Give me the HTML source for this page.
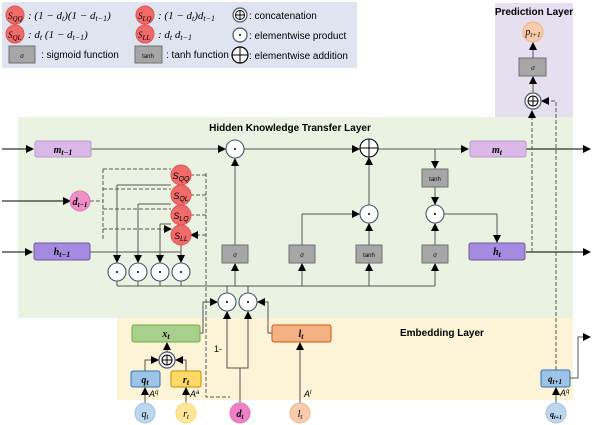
<!DOCTYPE html>
<html><head><meta charset="utf-8"><style>
html,body{margin:0;padding:0;background:#fff}
svg{display:block}
text{font-family:"Liberation Sans",sans-serif}
.m{font-family:"Liberation Serif",serif;font-style:italic;font-weight:bold}
.n{font-family:"Liberation Serif",serif;font-style:italic;font-weight:normal}
</style></head><body>
<svg width="602" height="425" viewBox="0 0 602 425" xmlns="http://www.w3.org/2000/svg">
<defs>
<marker id="a" markerWidth="8" markerHeight="8" refX="7" refY="4" orient="auto" markerUnits="userSpaceOnUse"><path d="M0,0L8,4L0,8z" fill="#000"/></marker>
</defs>
<rect x="2" y="2" width="355" height="66" fill="#dfe4f1"/>
<rect x="495" y="3" width="78" height="114" fill="#e6dff0"/>
<rect x="18" y="117" width="555" height="201" fill="#eaf3e2"/>
<rect x="117" y="318" width="456" height="82" fill="#fdf3d6"/>

<!-- legend -->
<g font-size="11">
<circle cx="15" cy="15" r="9" fill="#f26b6b" stroke="#e05050"/><text x="8" y="19" class="n" font-size="9">S<tspan font-size="7" dy="2">QQ</tspan></text>
<text x="28" y="19" class="n">: (1 − d<tspan font-size="8" dy="2">t</tspan><tspan dy="-2">)(1 − d</tspan><tspan font-size="8" dy="2">t−1</tspan><tspan dy="-2">)</tspan></text>
<circle cx="15" cy="34" r="9" fill="#f26b6b" stroke="#e05050"/><text x="8" y="38" class="n" font-size="9">S<tspan font-size="7" dy="2">QL</tspan></text>
<text x="28" y="38" class="n">: d<tspan font-size="8" dy="2">t</tspan><tspan dy="-2"> (1 − d</tspan><tspan font-size="8" dy="2">t−1</tspan><tspan dy="-2">)</tspan></text>
<rect x="9" y="46" width="26" height="17" fill="#a6a6a6" stroke="#707070"/><text x="22" y="58" font-size="6" text-anchor="middle" font-style="italic">σ</text>
<text x="41" y="58" font-size="10">: sigmoid function</text>
<circle cx="145" cy="15" r="9" fill="#f26b6b" stroke="#e05050"/><text x="138" y="19" class="n" font-size="9">S<tspan font-size="7" dy="2">LQ</tspan></text>
<text x="158" y="19" class="n">: (1 − d<tspan font-size="8" dy="2">t</tspan><tspan dy="-2">)d</tspan><tspan font-size="8" dy="2">t−1</tspan></text>
<circle cx="145" cy="34" r="9" fill="#f26b6b" stroke="#e05050"/><text x="138" y="38" class="n" font-size="9">S<tspan font-size="7" dy="2">LL</tspan></text>
<text x="158" y="38" class="n">: d<tspan font-size="8" dy="2">t</tspan><tspan dy="-2"> d</tspan><tspan font-size="8" dy="2">t−1</tspan></text>
<rect x="135" y="46" width="27" height="17" fill="#a6a6a6" stroke="#707070"/><text x="148" y="58" font-size="6" text-anchor="middle">tanh</text>
<text x="166" y="58" font-size="10">: tanh function</text>
<circle cx="240" cy="15" r="7" fill="#fff" stroke="#44546a" stroke-width="1.2"/><circle cx="240" cy="15" r="4.5" fill="none" stroke="#000"/><path d="M235.5,15h9M240,10.5v9" stroke="#000"/>
<text x="249" y="19" font-size="10">: concatenation</text>
<circle cx="240" cy="35" r="7" fill="#fff" stroke="#44546a" stroke-width="1.2"/><circle cx="240" cy="35" r="1" fill="#000"/>
<text x="249" y="39" font-size="10">: elementwise product</text>
<circle cx="240" cy="55" r="8" fill="#fff" stroke="#000" stroke-width="1.2"/><path d="M232,55h16M240,47v16" stroke="#000"/>
<text x="249" y="59" font-size="10">: elementwise addition</text>
</g>

<text x="290" y="131" font-size="10" font-weight="bold" text-anchor="middle">Hidden Knowledge Transfer Layer</text>
<text x="534" y="15" font-size="10" font-weight="bold" text-anchor="middle">Prediction Layer</text>
<text x="400" y="336" font-size="10" font-weight="bold">Embedding Layer</text>

<g stroke="#555" stroke-width="1" fill="none">
<line x1="2" y1="149" x2="33" y2="149" stroke="#000" marker-end="url(#a)"/>
<line x1="91" y1="149" x2="225" y2="149" marker-end="url(#a)"/>
<line x1="244" y1="149" x2="359" y2="149" marker-end="url(#a)"/>
<line x1="378" y1="149" x2="468" y2="149" marker-end="url(#a)"/>
<line x1="526" y1="149" x2="590" y2="149" stroke="#000" marker-end="url(#a)"/>
<line x1="435" y1="149" x2="435" y2="168" marker-end="url(#a)"/>
<line x1="435" y1="187" x2="435" y2="204" marker-end="url(#a)"/>
<line x1="444" y1="214" x2="497" y2="214"/><line x1="497" y1="214" x2="497" y2="242" marker-end="url(#a)"/>
<line x1="435" y1="245" x2="435" y2="224" marker-end="url(#a)"/>
<line x1="369" y1="245" x2="369" y2="224" marker-end="url(#a)"/>
<line x1="369" y1="205" x2="369" y2="158" marker-end="url(#a)"/>
<line x1="302" y1="245" x2="302" y2="214"/><line x1="302" y1="214" x2="359" y2="214" marker-end="url(#a)"/>
<line x1="235" y1="245" x2="235" y2="159" marker-end="url(#a)"/>
<line x1="117" y1="286" x2="435" y2="286"/>
<line x1="235" y1="286" x2="235" y2="264" marker-end="url(#a)"/>
<line x1="302" y1="286" x2="302" y2="264" marker-end="url(#a)"/>
<line x1="369" y1="286" x2="369" y2="264" marker-end="url(#a)"/>
<line x1="435" y1="286" x2="435" y2="264" marker-end="url(#a)"/>
<line x1="117" y1="281" x2="117" y2="286"/><line x1="138" y1="281" x2="138" y2="286"/><line x1="160" y1="281" x2="160" y2="286"/><line x1="181" y1="281" x2="181" y2="286"/>
<line x1="227" y1="286" x2="227" y2="293"/><line x1="248" y1="286" x2="248" y2="293"/>
<line x1="2" y1="252" x2="32" y2="252" stroke="#000" marker-end="url(#a)"/>
<line x1="90" y1="252" x2="181" y2="252"/>
<line x1="117" y1="185" x2="117" y2="262" marker-end="url(#a)"/>
<line x1="138" y1="204" x2="138" y2="262" marker-end="url(#a)"/>
<line x1="160" y1="224" x2="160" y2="262" marker-end="url(#a)"/>
<line x1="181" y1="244" x2="181" y2="262" marker-end="url(#a)"/>
<line x1="117" y1="185" x2="171" y2="185"/>
<line x1="138" y1="204" x2="171" y2="204"/>
<line x1="160" y1="224" x2="171" y2="224"/>
<line x1="526" y1="252" x2="590" y2="252" stroke="#000" marker-end="url(#a)"/>
<line x1="2" y1="201" x2="70" y2="201" stroke="#000" marker-end="url(#a)"/>
</g>
<g stroke="#555" stroke-dasharray="4,2" fill="none">
<path d="M90,201H103M103,169V240"/>
<path d="M103,169H171M103,189H171M103,209H171M103,229H171" marker-end="url(#a)"/>
<path d="M206,173V397H230"/>
<path d="M206,175H191M206,195H191M206,215H191M206,235H191" marker-end="url(#a)"/>
<path d="M532,252V111" marker-end="url(#a)"/>
<path d="M556,370V101H542" marker-end="url(#a)"/>
</g>
<g stroke="#555" fill="none">
<path d="M200,333H203V302H217" marker-end="url(#a)"/>
<path d="M272,333H268V302H258" marker-end="url(#a)"/>
<path d="M240,403V368H227V312" marker-end="url(#a)"/>
<path d="M240,368H248V312" marker-end="url(#a)"/>
<path d="M300,403V343" marker-end="url(#a)"/>
<path d="M145,403V388" marker-end="url(#a)"/><path d="M186,403V388" marker-end="url(#a)"/>
<path d="M145,371V360H158" marker-end="url(#a)"/><path d="M186,371V360H176" marker-end="url(#a)"/>
<path d="M167,353V343" marker-end="url(#a)"/>
<path d="M556,403V388" marker-end="url(#a)"/>
<path d="M570,378H578V337H590" marker-end="url(#a)"/>
<path d="M533,92V77" marker-end="url(#a)"/>
<path d="M533,58V43" marker-end="url(#a)"/>
</g>

<rect x="35" y="141" width="56" height="16" rx="2" fill="#dcb8e8" stroke="#b79bc8"/>
<text x="63" y="153" class="m" font-size="10" text-anchor="middle">m<tspan font-size="8" dy="2">t−1</tspan></text>
<rect x="470" y="141" width="56" height="16" rx="2" fill="#dcb8e8" stroke="#b79bc8"/>
<text x="497" y="153" class="m" font-size="10" text-anchor="middle">m<tspan font-size="8" dy="2">t</tspan></text>
<rect x="34" y="243" width="56" height="17" rx="2" fill="#a58be0" stroke="#6d5a9e"/>
<text x="62" y="255" class="m" font-size="10" text-anchor="middle">h<tspan font-size="8" dy="2">t−1</tspan></text>
<rect x="469" y="243" width="56" height="17" rx="2" fill="#a58be0" stroke="#6d5a9e"/>
<text x="497" y="255" class="m" font-size="10" text-anchor="middle">h<tspan font-size="8" dy="2">t</tspan></text>
<g fill="#a6a6a6" stroke="#707070">
<rect x="222" y="245" width="26" height="18"/><rect x="289" y="245" width="26" height="18"/>
<rect x="356" y="245" width="26" height="18"/><rect x="422" y="245" width="26" height="18"/>
<rect x="422" y="169" width="26" height="18"/><rect x="519" y="58" width="27" height="18"/>
</g>
<g font-size="6" text-anchor="middle">
<text x="235" y="257" font-style="italic">σ</text><text x="302" y="257" font-style="italic">σ</text>
<text x="369" y="257">tanh</text><text x="435" y="257" font-style="italic">σ</text>
<text x="435" y="181">tanh</text><text x="533" y="70" font-style="italic">σ</text>
</g>
<g fill="#fff" stroke="#44546a" stroke-width="1.1">
<circle cx="235" cy="149" r="9"/><circle cx="369" cy="214" r="9"/><circle cx="435" cy="214" r="9"/>
<circle cx="117" cy="272" r="9"/><circle cx="138" cy="272" r="9"/><circle cx="160" cy="272" r="9"/><circle cx="181" cy="272" r="9"/>
<circle cx="227" cy="302" r="9"/><circle cx="248" cy="302" r="9"/>
</g>
<g fill="#000">
<circle cx="235" cy="149" r="1"/><circle cx="369" cy="214" r="1"/><circle cx="435" cy="214" r="1"/>
<circle cx="117" cy="272" r="1"/><circle cx="138" cy="272" r="1"/><circle cx="160" cy="272" r="1"/><circle cx="181" cy="272" r="1"/>
<circle cx="227" cy="302" r="1"/><circle cx="248" cy="302" r="1"/>
</g>
<circle cx="369" cy="148" r="9" fill="#fff" stroke="#000" stroke-width="1.1"/><path d="M360,148h18M369,139v18" stroke="#000"/>
<circle cx="167" cy="360" r="8" fill="#fff" stroke="#44546a" stroke-width="1.2"/><circle cx="167" cy="360" r="5" fill="none" stroke="#000"/><path d="M162,360h10M167,355v10" stroke="#000"/>
<circle cx="533" cy="101" r="8" fill="#fff" stroke="#44546a" stroke-width="1.2"/><circle cx="533" cy="101" r="5" fill="none" stroke="#000"/><path d="M528,101h10M533,96v10" stroke="#000"/>
<g fill="#f26b6b" stroke="#e05050">
<circle cx="181" cy="175" r="10"/><circle cx="181" cy="195" r="10"/><circle cx="181" cy="215" r="10"/><circle cx="181" cy="235" r="10"/>
</g>
<g class="n" font-size="9" text-anchor="middle">
<text x="181" y="179">S<tspan font-size="7" dy="2">QQ</tspan></text>
<text x="181" y="199">S<tspan font-size="7" dy="2">QL</tspan></text>
<text x="181" y="219">S<tspan font-size="7" dy="2">LQ</tspan></text>
<text x="181" y="239">S<tspan font-size="7" dy="2">LL</tspan></text>
</g>
<circle cx="80" cy="201" r="10" fill="#ef90c8" stroke="#e070b0"/>
<text x="80" y="205" class="m" font-size="10" text-anchor="middle">d<tspan font-size="7" dy="2">t−1</tspan></text>
<rect x="132" y="325" width="68" height="17" rx="2" fill="#a8d08d" stroke="#70ad47"/>
<text x="166" y="337" class="m" font-size="10" text-anchor="middle">x<tspan font-size="8" dy="2">t</tspan></text>
<rect x="272" y="325" width="59" height="17" rx="2" fill="#f4b183" stroke="#c55a11"/>
<text x="301" y="337" class="m" font-size="10" text-anchor="middle">l<tspan font-size="8" dy="2">t</tspan></text>
<rect x="131" y="371" width="29" height="16" rx="2" fill="#9dc3e6" stroke="#2e75b6"/>
<text x="145" y="383" class="m" font-size="10" text-anchor="middle">q<tspan font-size="8" dy="2">t</tspan></text>
<rect x="171" y="371" width="30" height="16" rx="2" fill="#ffd966" stroke="#bf9000"/>
<text x="186" y="383" class="m" font-size="10" text-anchor="middle">r<tspan font-size="8" dy="2">t</tspan></text>
<rect x="541" y="370" width="29" height="17" rx="2" fill="#9dc3e6" stroke="#2e75b6"/>
<text x="555" y="382" class="m" font-size="9" text-anchor="middle">q<tspan font-size="7" dy="2">t+1</tspan></text>
<g font-family="Liberation Serif" font-style="italic" font-size="9">
<text x="149" y="397">A<tspan font-size="6" dy="-3">q</tspan></text>
<text x="190" y="397">A<tspan font-size="6" dy="-3">a</tspan></text>
<text x="304" y="397">A<tspan font-size="6" dy="-3">l</tspan></text>
<text x="560" y="396">A<tspan font-size="6" dy="-3">q</tspan></text>
</g>
<text x="214" y="352" font-size="9">1-</text>
<circle cx="145" cy="413" r="10" fill="#bdd7ee" stroke="#9dc3e6"/>
<text x="145" y="417" class="n" font-size="10" text-anchor="middle">q<tspan font-size="7" dy="2">t</tspan></text>
<circle cx="186" cy="413" r="10" fill="#ffe699" stroke="#ffd966"/>
<text x="186" y="417" class="n" font-size="10" text-anchor="middle">r<tspan font-size="7" dy="2">t</tspan></text>
<circle cx="240" cy="413" r="10" fill="#ef7fc8" stroke="#e070b0"/>
<text x="240" y="417" class="m" font-size="10" text-anchor="middle">d<tspan font-size="7" dy="2">t</tspan></text>
<circle cx="300" cy="413" r="10" fill="#f8cbad" stroke="#f4b183"/>
<text x="300" y="417" class="n" font-size="10" text-anchor="middle">l<tspan font-size="7" dy="2">t</tspan></text>
<circle cx="556" cy="413" r="10" fill="#bdd7ee" stroke="#9dc3e6"/>
<text x="556" y="417" class="m" font-size="8" text-anchor="middle">q<tspan font-size="6" dy="2">t+1</tspan></text>
<circle cx="533" cy="32" r="10" fill="#f8cbad" stroke="#f4b183"/>
<text x="533" y="35" class="n" font-size="10" text-anchor="middle">p<tspan font-size="7" dy="2">t+1</tspan></text>
</svg>
</body></html>
